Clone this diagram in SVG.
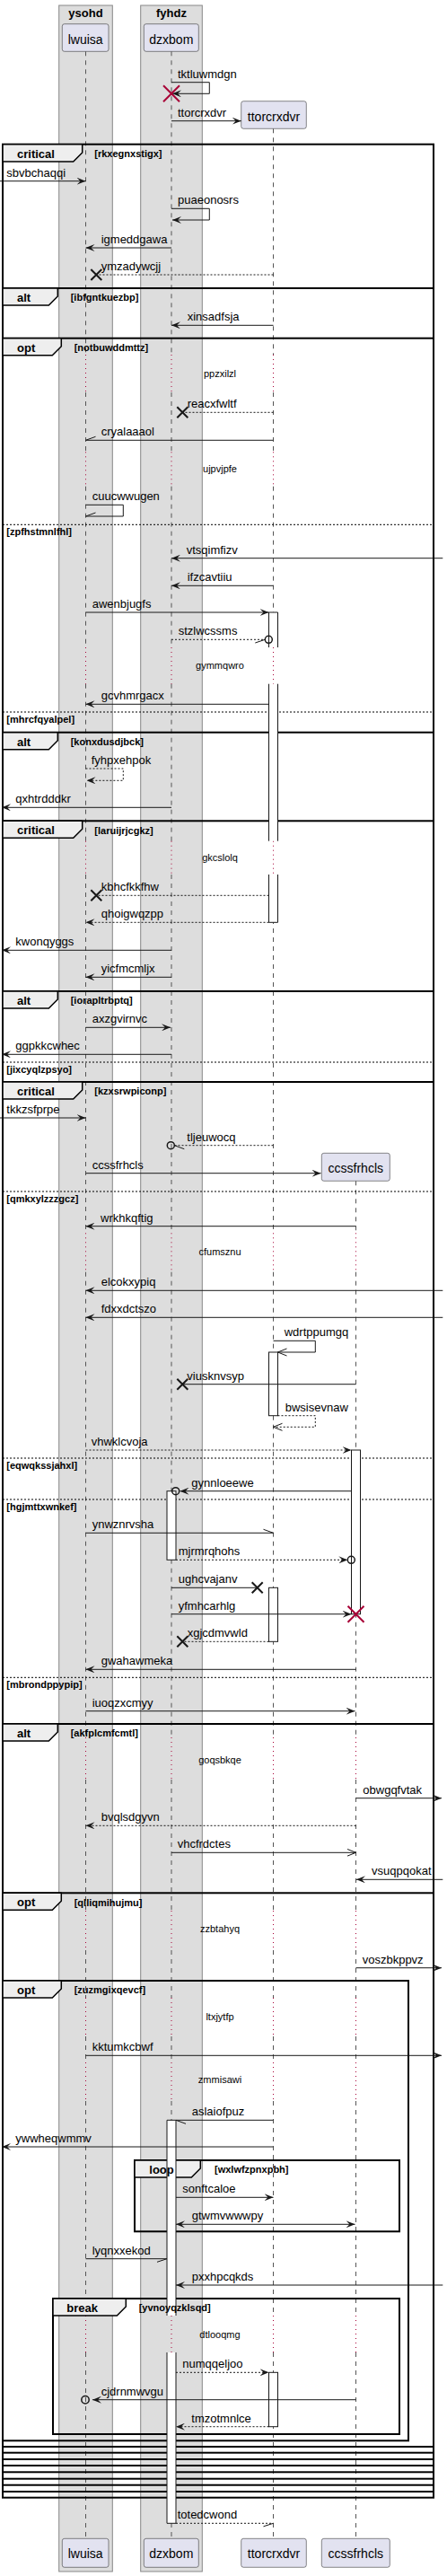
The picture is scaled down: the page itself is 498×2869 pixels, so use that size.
<svg xmlns="http://www.w3.org/2000/svg" width="498" height="2869" viewBox="0 0 498 2869">
<style>
text{font-family:"Liberation Sans",Arial,sans-serif;fill:#000}
.t{font-size:13px}
.p{font-size:14px;text-anchor:middle}
.gt{font-size:13px;font-weight:bold;text-anchor:middle}
.k{font-size:13px;font-weight:bold}
.g{font-size:11px;font-weight:bold}
.d{font-size:11px;text-anchor:middle}
.m{stroke:#181818;stroke-width:1;fill:none}
.md{stroke-dasharray:2,2}
.fa{marker-end:url(#af)}
.oa{marker-end:url(#ao)}
.fr{fill:none;stroke:#000;stroke-width:2}
.tab{fill:#EEEEEE;stroke:#000;stroke-width:1.5}
.el{stroke:#000;stroke-width:1;stroke-dasharray:2,2}
.ll{fill:none;stroke:#555;stroke-width:1;stroke-dasharray:5,5}
.dl{fill:none;stroke:#A80036;stroke-width:1;stroke-dasharray:1,4}
.box{fill:#E2E2F0;stroke:#181818;stroke-width:0.5}
.grp{fill:#DDDDDD;stroke:#888;stroke-width:1}
.af{fill:#fff;stroke:none}
.as{fill:none;stroke:#181818;stroke-width:1}
.xr{stroke:#A80036;stroke-width:2}
.xb{stroke:#181818;stroke-width:2}
.ci{fill:none;stroke:#181818;stroke-width:1.5}
</style>
<defs>
<marker id="af" viewBox="0 0 10 8" refX="10" refY="4" markerWidth="10" markerHeight="8" orient="auto-start-reverse" markerUnits="userSpaceOnUse"><path d="M0,0 L10,4 L0,8 L4,4 Z" fill="#181818"/></marker>
<marker id="ao" viewBox="0 0 11 10" refX="10" refY="5" markerWidth="11" markerHeight="10" orient="auto" markerUnits="userSpaceOnUse"><path d="M0,1 L10,5 L0,9" fill="none" stroke="#181818" stroke-width="1"/></marker>
</defs>

<g id="boxes">
<rect class="grp" x="65.7" y="6" width="59.6" height="2858"/>
<text class="gt" x="95.5" y="19">ysohd</text>
<rect class="grp" x="156.7" y="6" width="68.6" height="2858"/>
<text class="gt" x="191" y="19">fyhdz</text>
</g>

<g id="p-lwuisa">
<path class="ll" d="M95.5,57.3 V395 M95.5,437 V503.3 M95.5,541.7 V721 M95.5,761.7 V936.7 M95.5,974 V1373.3 M95.5,1416.7 V1935 M95.5,1982 V2128 M95.5,2172 V2225 M95.5,2268 V2297 M95.5,2340 V2579 M95.5,2620 V2827.3"/>
<rect class="box" x="69.3" y="26.7" width="51.7" height="30.6" rx="2.5"/>
<text class="p" x="95.2" y="48.5">lwuisa</text>
<rect class="box" x="69.3" y="2827.3" width="51.7" height="32" rx="2.5"/>
<text class="p" x="95.2" y="2849.3">lwuisa</text>
</g>
<g id="p-dzxbom">
<path class="ll" d="M191,57.3 V395 M191,437 V503.3 M191,541.7 V721 M191,761.7 V936.7 M191,974 V1373.3 M191,1416.7 V1935 M191,1982 V2128 M191,2172 V2225 M191,2268 V2297 M191,2340 V2579 M191,2620 V2827.3"/>
<rect class="box" x="160.3" y="26.7" width="61" height="30.6" rx="2.5"/>
<text class="p" x="190.8" y="48.5">dzxbom</text>
<rect class="box" x="160.3" y="2827.3" width="61" height="32" rx="2.5"/>
<text class="p" x="190.8" y="2849.3">dzxbom</text>
</g>
<g id="p-ttorcrxdvr">
<path class="ll" d="M304.5,143.3 V395 M304.5,437 V503.3 M304.5,541.7 V721 M304.5,761.7 V936.7 M304.5,974 V1373.3 M304.5,1416.7 V1935 M304.5,1982 V2128 M304.5,2172 V2225 M304.5,2268 V2297 M304.5,2340 V2579 M304.5,2620 V2827.3"/>
<rect class="box" x="268.7" y="112.7" width="72.6" height="30.6" rx="2.5"/>
<text class="p" x="305" y="134.7">ttorcrxdvr</text>
<rect class="box" x="268.7" y="2827.3" width="72.6" height="32" rx="2.5"/>
<text class="p" x="305" y="2849.3">ttorcrxdvr</text>
</g>
<g id="p-ccssfrhcls">
<path class="ll" d="M396.5,1315.3 V1373.3 M396.5,1416.7 V1935 M396.5,1982 V2128 M396.5,2172 V2225 M396.5,2268 V2297 M396.5,2340 V2579 M396.5,2620 V2827.3"/>
<rect class="box" x="358.3" y="1284.3" width="76" height="31" rx="2.5"/>
<text class="p" x="396.3" y="1306.3">ccssfrhcls</text>
<rect class="box" x="358.3" y="2827.3" width="76" height="32" rx="2.5"/>
<text class="p" x="396.3" y="2849.3">ccssfrhcls</text>
</g>

<g id="delays">
<path class="dl" d="M95.5,395 V437 M191,395 V437 M304.5,395 V437"/>
<text class="d" x="245" y="420">ppzxilzl</text>
<path class="dl" d="M95.5,503.3 V541.7 M191,503.3 V541.7 M304.5,503.3 V541.7"/>
<text class="d" x="245" y="526">ujpvjpfe</text>
<path class="dl" d="M95.5,721 V761.7 M191,721 V761.7 M304.5,721 V761.7"/>
<text class="d" x="245" y="745">gymmqwro</text>
<path class="dl" d="M95.5,936.7 V974 M191,936.7 V974 M304.5,936.7 V974"/>
<text class="d" x="245" y="958.5">gkcslolq</text>
<path class="dl" d="M95.5,1373.3 V1416.7 M191,1373.3 V1416.7 M304.5,1373.3 V1416.7 M396.5,1373.3 V1416.7"/>
<text class="d" x="245" y="1398">cfumsznu</text>
<path class="dl" d="M95.5,1935 V1982 M191,1935 V1982 M304.5,1935 V1982 M396.5,1935 V1982"/>
<text class="d" x="245" y="1964">goqsbkqe</text>
<path class="dl" d="M95.5,2128 V2172 M191,2128 V2172 M304.5,2128 V2172 M396.5,2128 V2172"/>
<text class="d" x="245" y="2152">zzbtahyq</text>
<path class="dl" d="M95.5,2225 V2268 M191,2225 V2268 M304.5,2225 V2268 M396.5,2225 V2268"/>
<text class="d" x="245" y="2249.5">ltxjytfp</text>
<path class="dl" d="M95.5,2297 V2340 M191,2297 V2340 M304.5,2297 V2340 M396.5,2297 V2340"/>
<text class="d" x="245" y="2320">zmmisawi</text>
<path class="dl" d="M95.5,2579 V2620 M191,2579 V2620 M304.5,2579 V2620 M396.5,2579 V2620"/>
<text class="d" x="245" y="2603.5">dtlooqmg</text>
</g>

<g id="frames">
<rect class="fr" x="3" y="160.7" width="480" height="2621"/>
<rect class="fr" x="3" y="321" width="480" height="2454"/>
<rect class="fr" x="3" y="376.7" width="480" height="2391"/>
<rect class="fr" x="3" y="815.7" width="480" height="1945"/>
<rect class="fr" x="3" y="914.3" width="480" height="1839"/>
<rect class="fr" x="3" y="1104" width="480" height="1642"/>
<rect class="fr" x="3" y="1205" width="480" height="1534"/>
<rect class="fr" x="3" y="1920" width="480" height="811.7"/>
<rect class="fr" x="3" y="2108.3" width="480" height="616.7"/>
<rect class="fr" x="3" y="2206" width="452" height="512.3"/>
<rect class="fr" x="150" y="2406" width="295" height="79.3"/>
<rect class="fr" x="59" y="2560" width="386" height="151"/>
<polygon class="tab" points="3,160.7 91.7,160.7 91.7,170 81.7,180 3,180"/>
<polygon class="tab" points="3,321 64.3,321 64.3,330 54.3,340 3,340"/>
<polygon class="tab" points="3,376.7 68.3,376.7 68.3,385.7 58.3,395.7 3,395.7"/>
<polygon class="tab" points="3,815.7 64.3,815.7 64.3,824.7 54.3,834.7 3,834.7"/>
<polygon class="tab" points="3,914.3 91.7,914.3 91.7,923.3 81.7,933.3 3,933.3"/>
<polygon class="tab" points="3,1104 64.3,1104 64.3,1113 54.3,1123 3,1123"/>
<polygon class="tab" points="3,1205 91.7,1205 91.7,1214 81.7,1224 3,1224"/>
<polygon class="tab" points="3,1920 64.3,1920 64.3,1929 54.3,1939 3,1939"/>
<polygon class="tab" points="3,2108.3 68.3,2108.3 68.3,2117.3 58.3,2127.3 3,2127.3"/>
<polygon class="tab" points="3,2206 68.3,2206 68.3,2215 58.3,2225 3,2225"/>
<polygon class="tab" points="150,2406 223.3,2406 223.3,2415 213.3,2425 150,2425"/>
<polygon class="tab" points="59,2560 140.3,2560 140.3,2569 130.3,2579 59,2579"/>
<line class="el" x1="3" y1="584.3" x2="483" y2="584.3"/>
<line class="el" x1="3" y1="793" x2="483" y2="793"/>
<line class="el" x1="3" y1="1183" x2="483" y2="1183"/>
<line class="el" x1="3" y1="1327" x2="483" y2="1327"/>
<line class="el" x1="3" y1="1624" x2="483" y2="1624"/>
<line class="el" x1="3" y1="1670" x2="483" y2="1670"/>
<line class="el" x1="3" y1="1868.3" x2="483" y2="1868.3"/>
</g>

<g id="activations">
<rect class="af" x="299.5" y="682" width="10" height="39"/>
<rect class="af" x="299.5" y="761.7" width="10" height="175"/>
<rect class="af" x="299.5" y="974" width="10" height="53.3"/>
<path class="as" d="M299.5,721 V682 H309.5 V721 M299.5,761.7 V936.7 M309.5,761.7 V936.7 M299.5,974 V1027.3 H309.5 V974"/>
<rect x="299.5" y="1506" width="10" height="70.7" fill="#fff" stroke="#181818"/>
<rect x="391.5" y="1615" width="10" height="182.7" fill="#fff" stroke="#181818"/>
<rect x="186" y="1660.7" width="10" height="76.6" fill="#fff" stroke="#181818"/>
<rect x="299.5" y="1768.3" width="10" height="60" fill="#fff" stroke="#181818"/>
<rect class="af" x="186" y="2361.3" width="10" height="217.7"/>
<rect class="af" x="186" y="2620" width="10" height="190.3"/>
<path class="as" d="M186,2579 V2361.3 H196 V2579 M186,2620 V2810.3 H196 V2620"/>
<rect x="299.5" y="2642.3" width="10" height="60.4" fill="#fff" stroke="#181818"/>
</g>

<g id="frame-labels">
<text class="k" x="19" y="176">critical</text><text class="g" x="105.3" y="175">[rkxegnxstigx]</text>
<text class="k" x="19" y="336">alt</text><text class="g" x="78.7" y="335">[ibfgntkuezbp]</text>
<text class="k" x="19" y="391.7">opt</text><text class="g" x="82.7" y="391">[notbuwddmttz]</text>
<text class="g" x="7.3" y="596.3">[zpfhstmnlfhl]</text>
<text class="g" x="7.3" y="805">[mhrcfqyalpel]</text>
<text class="k" x="19" y="830.7">alt</text><text class="g" x="78.7" y="830">[konxdusdjbck]</text>
<text class="k" x="19" y="929.3">critical</text><text class="g" x="105.3" y="928.7">[laruijrjcgkz]</text>
<text class="k" x="19" y="1119">alt</text><text class="g" x="78.7" y="1118.3">[iorapltrbptq]</text>
<text class="g" x="7.3" y="1195">[jixcyqlzpsyo]</text>
<text class="k" x="19" y="1220">critical</text><text class="g" x="105.3" y="1219.3">[kzxsrwpiconp]</text>
<text class="g" x="7.3" y="1339">[qmkxylzzzgcz]</text>
<text class="g" x="7.3" y="1636">[eqwqkssjahxl]</text>
<text class="g" x="7.3" y="1682">[hgjmttxwnkef]</text>
<text class="g" x="7.3" y="1880.3">[mbrondppypip]</text>
<text class="k" x="19" y="1935">alt</text><text class="g" x="78.7" y="1934.3">[akfplcmfcmtl]</text>
<text class="k" x="19" y="2123.3">opt</text><text class="g" x="82.7" y="2122.7">[qlliqmihujmu]</text>
<text class="k" x="19" y="2221">opt</text><text class="g" x="82.7" y="2220.3">[zuzmgixqevcf]</text>
<text class="k" x="166.3" y="2421">loop</text><text class="g" x="239" y="2420.3">[wxlwfzpnxpbh]</text>
<text class="k" x="74.3" y="2575">break</text><text class="g" x="154.7" y="2574.3">[yvnoyqzklsqd]</text>
</g>

<g id="connectors">
<path class="m fa" d="M191,91.7 H233.3 V104.3 H192"/>
<path class="m fa" d="M191,134.7 H268.7"/>
<path class="m fa" d="M0,201.7 H95.5"/>
<path class="m fa" d="M191,232.3 H233.3 V245 H192"/>
<path class="m fa" d="M191,276 H95.5"/>
<path class="m md" d="M304.5,306 H107.3"/>
<path class="m fa" d="M304.5,362.3 H191"/>
<path class="m md" d="M304.5,459.3 H203.3"/>
<path class="m" d="M304.5,490.3 H95.5 M95.5,490.3 L106.5,486.3"/>
<path class="m" d="M95.5,562.3 H137.3 V575 H95.5 M95.5,575 L106.5,571"/>
<path class="m fa" d="M493.3,621.7 H191"/>
<path class="m fa" d="M304.5,652.3 H191"/>
<path class="m fa" d="M95.5,682 H299.5"/>
<path class="m md" d="M191,712.3 H295.3"/>
<path class="m" d="M284.3,716 L295.3,712.3"/>
<circle class="ci" cx="299.3" cy="712.3" r="4"/>
<path class="m fa" d="M299.5,784.3 H95.5"/>
<path class="m md fa" d="M95.5,856 H137.3 V869.3 H96.5"/>
<path class="m fa" d="M191,899.3 H2"/>
<path class="m md" d="M299.5,997.3 H107.3"/>
<path class="m md fa" d="M299.5,1027.3 H95.5"/>
<path class="m fa" d="M191,1058.3 H2"/>
<path class="m fa" d="M191,1088.3 H95.5"/>
<path class="m fa" d="M95.5,1144.3 H190"/>
<path class="m fa" d="M191,1174.3 H2"/>
<path class="m fa" d="M0,1245 H95.5"/>
<path class="m md" d="M304.5,1275.7 H194.3"/>
<path class="m" d="M194.3,1275.7 L205.3,1279.7"/>
<circle class="ci" cx="190.3" cy="1275.7" r="4"/>
<path class="m fa" d="M95.5,1306.7 H357.5"/>
<path class="m fa" d="M396.5,1365.7 H95.5"/>
<path class="m fa" d="M493.3,1437.3 H95.5"/>
<path class="m fa" d="M493.3,1467.3 H95.5"/>
<path class="m oa" d="M304.5,1493.3 H351.3 V1506 H309.5"/>
<path class="m" d="M396.5,1541.7 H203.3"/>
<path class="m md oa" d="M309.5,1576.7 H351.3 V1589.3 H304.5"/>
<path class="m md fa" d="M95.5,1615 H391.5"/>
<path class="m fa" d="M391.5,1660.7 H200.5"/>
<circle class="ci" cx="195.7" cy="1660.7" r="4"/>
<path class="m" d="M95.5,1707.3 H304.5 M304.5,1707.3 L293.5,1703.3"/>
<path class="m md fa" d="M196,1737.3 H387.3"/>
<circle class="ci" cx="391.3" cy="1737.3" r="4"/>
<path class="m" d="M191,1768.3 H286.7"/>
<path class="m fa" d="M191,1797.7 H391.5"/>
<path class="m md" d="M299.5,1828.3 H203.3"/>
<path class="m fa" d="M396.5,1859.3 H95.5"/>
<path class="m fa" d="M95.5,1905.7 H395.5"/>
<path class="m fa" d="M396.5,2002.7 H492"/>
<path class="m md fa" d="M396.5,2033.3 H95.5"/>
<path class="m oa" d="M191,2063.3 H396.5"/>
<path class="m fa" d="M493.3,2093.3 H397"/>
<path class="m fa" d="M396.5,2191.7 H492"/>
<path class="m fa" d="M95.5,2289.3 H492"/>
<path class="m" d="M304.5,2361.3 H196 M196,2361.3 L207,2365.3"/>
<path class="m fa" d="M304.5,2391 H2"/>
<path class="m fa" d="M196,2447.3 H304.5"/>
<path class="m fa" d="M196,2477.3 H395.5" marker-start="url(#af)"/>
<path class="m" d="M95.5,2515.7 H186 M186,2515.7 L175,2519.3"/>
<path class="m fa" d="M493.3,2545 H196"/>
<path class="m md fa" d="M196,2642.3 H299.5"/>
<path class="m fa" d="M396.5,2672.7 H103"/>
<circle class="ci" cx="95" cy="2672.7" r="4.2"/>
<path class="m md fa" d="M299.5,2702.7 H196"/>
<path class="m md" d="M196,2810.3 H304.5"/>
<path class="m" d="M304.5,2810.3 L293.5,2813.8"/>
<path class="xr" d="M182,95.3 L200,113.3 M200,95.3 L182,113.3"/>
<path class="xr" d="M387.5,1788.7 L405.5,1806.7 M405.5,1788.7 L387.5,1806.7"/>
<path class="xb" d="M101.3,300 L113.3,312 M113.3,300 L101.3,312"/>
<path class="xb" d="M197.3,453.3 L209.3,465.3 M209.3,453.3 L197.3,465.3"/>
<path class="xb" d="M101.3,991.3 L113.3,1003.3 M113.3,991.3 L101.3,1003.3"/>
<path class="xb" d="M197.3,1535.7 L209.3,1547.7 M209.3,1535.7 L197.3,1547.7"/>
<path class="xb" d="M280.7,1762.3 L292.7,1774.3 M292.7,1762.3 L280.7,1774.3"/>
<path class="xb" d="M197.3,1822.3 L209.3,1834.3 M209.3,1822.3 L197.3,1834.3"/>
</g>

<g id="labels">
<text class="t" x="198" y="86.7">tktluwmdgn</text>
<text class="t" x="198" y="129.7">ttorcrxdvr</text>
<text class="t" x="7.3" y="196.7">sbvbchaqqi</text>
<text class="t" x="198" y="227.3">puaeonosrs</text>
<text class="t" x="112.7" y="271">igmeddgawa</text>
<text class="t" x="112.7" y="301">ymzadywcjj</text>
<text class="t" x="208.7" y="357.3">xinsadfsja</text>
<text class="t" x="208.7" y="454.3">reacxfwltf</text>
<text class="t" x="112.7" y="485.3">cryalaaaol</text>
<text class="t" x="102.7" y="557.3">cuucwwugen</text>
<text class="t" x="207.7" y="616.7">vtsqimfizv</text>
<text class="t" x="208.7" y="647.3">ifzcavtiiu</text>
<text class="t" x="102.7" y="677">awenbjugfs</text>
<text class="t" x="198.7" y="707.3">stzlwcssms</text>
<text class="t" x="112.7" y="779.3">gcvhmrgacx</text>
<text class="t" x="101.7" y="851">fyhpxehpok</text>
<text class="t" x="17.3" y="894.3">qxhtrdddkr</text>
<text class="t" x="112.7" y="992.3">kbhcfkkfhw</text>
<text class="t" x="112.7" y="1022.3">qhoigwqzpp</text>
<text class="t" x="17.3" y="1053.3">kwonqyggs</text>
<text class="t" x="112.7" y="1083.3">yicfmcmljx</text>
<text class="t" x="102.7" y="1139.3">axzgvirnvc</text>
<text class="t" x="17.3" y="1169.3">ggpkkcwhec</text>
<text class="t" x="7.3" y="1240">tkkzsfprpe</text>
<text class="t" x="208.3" y="1270.7">tljeuwocq</text>
<text class="t" x="102.7" y="1301.7">ccssfrhcls</text>
<text class="t" x="112" y="1360.7">wrkhkqftig</text>
<text class="t" x="112.7" y="1432.3">elcokxypiq</text>
<text class="t" x="112.7" y="1462.3">fdxxdctszo</text>
<text class="t" x="316.7" y="1488.3">wdrtppumgq</text>
<text class="t" x="208.3" y="1536.7">viusknvsyp</text>
<text class="t" x="317.7" y="1571.7">bwsisevnaw</text>
<text class="t" x="101.7" y="1610">vhwklcvoja</text>
<text class="t" x="213.3" y="1655.7">gynnloeewe</text>
<text class="t" x="102.7" y="1702.3">ynwznrvsha</text>
<text class="t" x="198.7" y="1732.3">mjrmrqhohs</text>
<text class="t" x="198.7" y="1763.3">ughcvajanv</text>
<text class="t" x="198.7" y="1792.7">yfmhcarhlg</text>
<text class="t" x="208.7" y="1823.3">xgjcdmvwld</text>
<text class="t" x="112.7" y="1854.3">gwahawmeka</text>
<text class="t" x="102.7" y="1900.7">iuoqzxcmyy</text>
<text class="t" x="404.3" y="1997.7">obwgqfvtak</text>
<text class="t" x="112.7" y="2028.3">bvqlsdgyvn</text>
<text class="t" x="197.7" y="2058.3">vhcfrdctes</text>
<text class="t" x="414" y="2088.3">vsuqpqokat</text>
<text class="t" x="403.7" y="2186.7">voszbkppvz</text>
<text class="t" x="102.7" y="2284.3">kktumkcbwf</text>
<text class="t" x="213.7" y="2356.3">aslaiofpuz</text>
<text class="t" x="17.3" y="2386">ywwheqwmmv</text>
<text class="t" x="203.3" y="2442.3">sonftcaloe</text>
<text class="t" x="213.7" y="2472.3">gtwmvwwwpy</text>
<text class="t" x="102.7" y="2510.7">lyqnxxekod</text>
<text class="t" x="213.7" y="2540">pxxhpcqkds</text>
<text class="t" x="203.3" y="2637.3">numqqeljoo</text>
<text class="t" x="112.7" y="2667.7">cjdrnmwvgu</text>
<text class="t" x="213.3" y="2697.7">tmzotmnlce</text>
<text class="t" x="197.7" y="2805.3">totedcwond</text>
</g>
</svg>
